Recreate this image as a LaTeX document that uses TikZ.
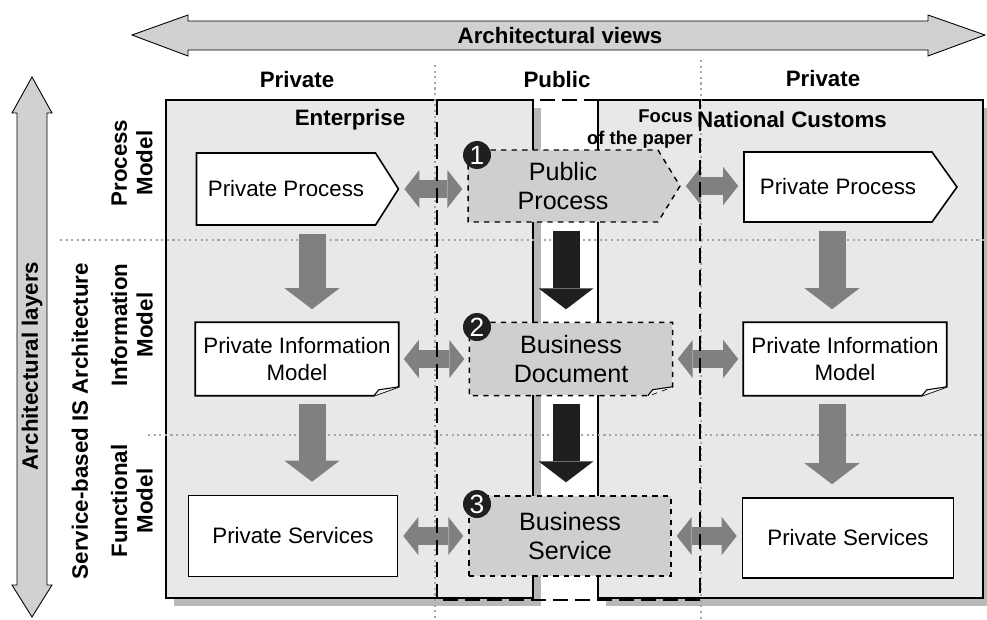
\documentclass[tikz,border=0pt]{standalone}
\usepackage{fontspec}
\setmainfont{Liberation Sans}
\usetikzlibrary{arrows.meta,shapes.symbols}

\begin{document}
\begin{tikzpicture}
		[x=0.02cm,y=-0.02cm,
		%Styles
		head label/.style={font=\bfseries\fontsize{12.7}{15}\selectfont},
		layer label/.style={font=\bfseries\fontsize{12.7}{14.5}\selectfont,rotate=90,align=center},
		view line/.style={dotted,line width=1.2pt,draw=black!35},
		focus line/.style={line width=1.6pt,dash pattern=on 0.3cm off 0.14cm},
		private box/.style={draw,fill=white,line width=0.9pt,inner sep=2pt,align=center,font=\fontsize{12.7}{15.4}\selectfont},
		public box/.style={private box,fill=pubfill,dashed,line width=0.8pt,font=\fontsize{14.3}{16.5}\selectfont},
		private process/.style={private box,signal,signal to=east},
		public process/.style={public box,signal,signal to=east},
		doc box/.style={fill=#1,inner sep=2pt,align=center,minimum width=4.04cm,minimum height=1.44cm},
		flow arrow/.style={-{Triangle[width=1.1cm,length=0.42cm,line width=0pt]},line width=0.54cm,draw=#1,shorten <=0.16cm,shorten >=0.26cm},
		link arrow/.style={{Triangle[width=0.76cm,length=0.3cm,line width=0pt]}-{Triangle[width=0.76cm,length=0.3cm,line width=0pt]},line width=0.36cm,draw=linkgray,shorten <=0.1cm,shorten >=0.1cm},
		number/.style={circle,fill=black!88,text=white,inner sep=0pt,minimum size=0.56cm,font=\fontsize{15}{15}\selectfont}
		]
		
		%Colors
		\colorlet{boxbg}{black!9}
		\colorlet{pubfill}{black!19}
		\colorlet{linkgray}{black!50}
		\colorlet{shadowgray}{black!28}
		\colorlet{bigarrow}{black!18}
		
		\useasboundingbox (0,0) rectangle (987,619);
		
		%The axes
		\filldraw[fill=bigarrow,line width=0.5pt] (132,35) -- (188,15) -- (188,21) -- (928,21) -- (928,15) -- (985,35) -- (928,56) -- (928,50) -- (188,50) -- (188,56) -- cycle;
		\node[head label] (views) at (560,36) {Architectural views};
		\filldraw[fill=bigarrow,line width=0.5pt] (32,77) -- (52,113) -- (47,113) -- (47,585) -- (52,585) -- (32,617) -- (12,585) -- (17,585) -- (17,113) -- (12,113) -- cycle;
		\node[layer label] (layers) at (32,366) {Architectural layers};
		
		\node[head label] (privA) at (297,80) {Private};
		\node[head label] (public) at (557,80) {Public};
		\node[head label] (privB) at (823,79) {Private};
		
		%The organisations
		\fill[shadowgray] (174,108) rectangle (541,606);
		\filldraw[fill=boxbg,line width=1pt] (166,100) rectangle (533,598);
		\fill[shadowgray] (606,108) rectangle (991,606);
		\filldraw[fill=boxbg,line width=1pt] (598,100) rectangle (983,598);
		
		\draw[view line] (435,65) -- (435,619);
		\draw[view line] (701,60) -- (701,619);
		\draw[view line] (60,240) -- (987,240);
		\draw[view line] (148,435) -- (987,435);
		
		\node[head label] (enterprise) at (350,120) {Enterprise};
		\node[head label] (customs) at (792,120) {National Customs};
		\node[font=\bfseries\fontsize{10.5}{13}\selectfont,align=right] (focus) at (640,129) {Focus\\of the paper};
		
		\node[layer label] (soa) at (80,421) {Service-based IS Architecture};
		\node[layer label] (procmodel) at (132,163) {Process\\Model};
		\node[layer label] (infomodel) at (132,325) {Information\\Model};
		\node[layer label] (funcmodel) at (132,501) {Functional\\Model};
		
		%The models
		\node[private process,minimum width=4.04cm,minimum height=1.44cm,signal pointer angle=115] (ppA) at (286,189) {Private Process};
		\node[public process,minimum width=4.24cm,minimum height=1.44cm,signal pointer angle=117] (pubproc) at (563,186) {Public\\Process};
		\node[private process,minimum width=4.26cm,minimum height=1.4cm,signal pointer angle=109] (ppB) at (838,187) {Private Process};
		
		\node[doc box=white,private box,draw=none] (pimA) at (297,359) {Private Information\\Model};
		\node[doc box=pubfill,public box,draw=none] (bdoc) at (571,359) {Business\\Document};
		\node[doc box=white,private box,draw=none] (pimB) at (845,359) {Private Information\\Model};
		\foreach \n/\d in {pimA/solid,bdoc/dashed,pimB/solid}{
			\fill[boxbg] ([xshift=-0.5cm]\n.south east) -- (\n.south east) -- ([yshift=0.18cm]\n.south east) -- cycle;
			\draw[line width=0.9pt,\d] (\n.north west) -- (\n.north east) -- ([yshift=0.18cm]\n.south east) -- ([xshift=-0.5cm]\n.south east) -- (\n.south west) -- cycle;
			\filldraw[fill=black!6,line width=0.6pt] ([xshift=-0.5cm]\n.south east) -- ([xshift=-0.4cm,yshift=0.12cm]\n.south east) -- ([yshift=0.18cm]\n.south east);
		}
		
		\node[private box,minimum width=4.18cm,minimum height=1.62cm] (psA) at (293,536) {Private Services};
		\node[public box,minimum width=4.04cm,minimum height=1.6cm] (bserv) at (570,536) {Business\\Service};
		\node[private box,minimum width=4.22cm,minimum height=1.6cm] (psB) at (848,538) {Private Services};
		
		%Refinement arrows
		\coordinate (leftaxis) at (312,0);
		\coordinate (pubaxis) at (566,0);
		\coordinate (rightaxis) at (832,0);
		\draw[flow arrow=linkgray] (ppA.south -| leftaxis) -- (pimA.north -| leftaxis);
		\draw[flow arrow=linkgray] (pimA.south -| leftaxis) -- (psA.north -| leftaxis);
		\draw[flow arrow=black!88] (pubproc.south -| pubaxis) -- (bdoc.north -| pubaxis);
		\draw[flow arrow=black!88] (bdoc.south -| pubaxis) -- (bserv.north -| pubaxis);
		\draw[flow arrow=linkgray] (ppB.south -| rightaxis) -- (pimB.north -| rightaxis);
		\draw[flow arrow=linkgray] (pimB.south -| rightaxis) -- (psB.north -| rightaxis);
		
		%Mapping arrows
		\draw[link arrow] (ppA.east) -- (ppA.east -| pubproc.west);
		\draw[link arrow] (pubproc.east) -- (pubproc.east -| ppB.west);
		\draw[link arrow] (pimA.east) -- (pimA.east -| bdoc.west);
		\draw[link arrow] (bdoc.east) -- (bdoc.east -| pimB.west);
		\draw[link arrow] (psA.east) -- (psA.east -| bserv.west);
		\draw[link arrow] (bserv.east) -- (bserv.east -| psB.west);
		
		\draw[focus line] (437,100) rectangle (700,600);
		
		\node[number] (numA) at (477,155) {1};
		\node[number] (numB) at (477,327) {2};
		\node[number] (numC) at (477,504) {3};
	\end{tikzpicture}
\end{document}
